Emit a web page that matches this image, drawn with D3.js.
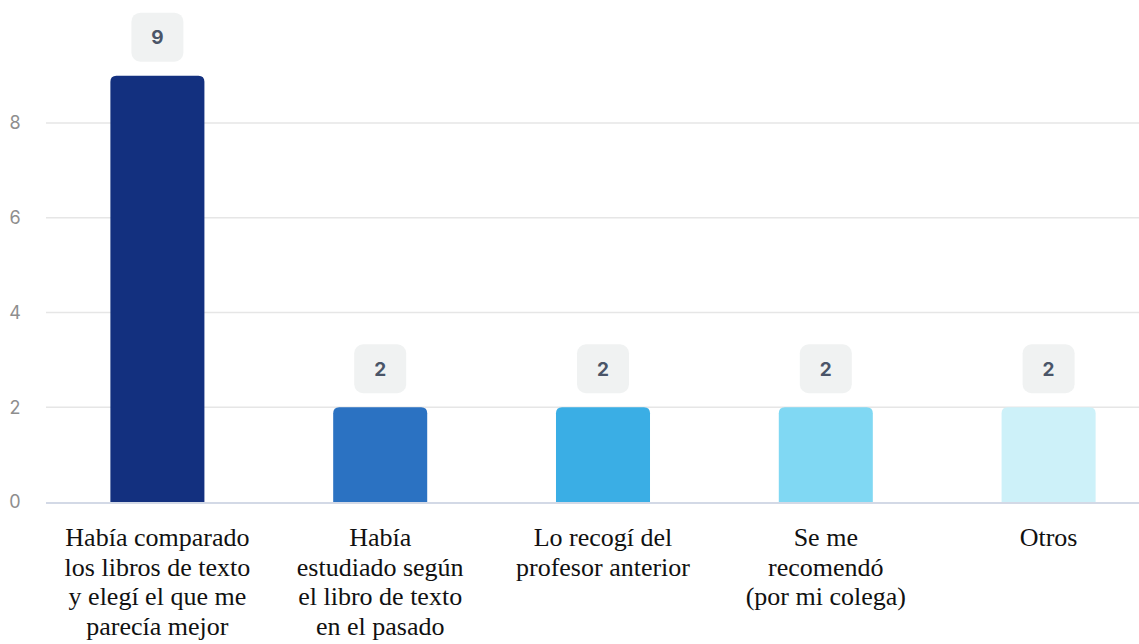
<!DOCTYPE html>
<html>
<head>
<meta charset="utf-8">
<script src="https://cdn.jsdelivr.net/npm/d3@7"></script>
<style>
  html, body { margin: 0; padding: 0; background: #ffffff; }
  svg { display: block; }
</style>
</head>
<body>
<svg id="chart" width="1139" height="644"></svg>
<script>
const categories = [
  ["Había comparado", "los libros de texto", "y elegí el que me", "parecía mejor"],
  ["Había", "estudiado según", "el libro de texto", "en el pasado"],
  ["Lo recogí del", "profesor anterior"],
  ["Se me", "recomendó", "(por mi colega)"],
  ["Otros"]
];
const values = [9, 2, 2, 2, 2];
const colors = ["#13307f", "#2b72c2", "#3aaee5", "#80d8f3", "#cdf1f9"];
const yTicks = [0, 2, 4, 6, 8];

const svg = d3.select("#chart");
const left = 46, right = 1160;

const x = d3.scaleBand()
  .domain(d3.range(values.length))
  .range([left, right])
  .paddingInner(0.578)
  .paddingOuter(0.289);

const y = d3.scaleLinear().domain([0, 8]).range([502, 123]);

// gridlines
svg.append("g").selectAll("line")
  .data(yTicks.filter(t => t !== 0))
  .join("line")
  .attr("x1", left).attr("x2", 1139)
  .attr("y1", d => y(d)).attr("y2", d => y(d))
  .attr("stroke", "#e6e6e6").attr("stroke-width", 1.5);

// y tick labels
svg.append("g").selectAll("text")
  .data(yTicks)
  .join("text")
  .attr("x", 15).attr("y", d => y(d))
  .attr("dy", "0.35em")
  .attr("text-anchor", "middle")
  .attr("font-family", "Inter, Roboto, sans-serif")
  .attr("font-size", 18)
  .attr("fill", "#8e8e8e")
  .text(d => d);

// bars with rounded top corners
const r = 6;
function barPath(i) {
  const x0 = x(i), w = x.bandwidth(), y0 = y(values[i]), y1 = y(0);
  return `M${x0},${y1} L${x0},${y0 + r} Q${x0},${y0} ${x0 + r},${y0} L${x0 + w - r},${y0} Q${x0 + w},${y0} ${x0 + w},${y0 + r} L${x0 + w},${y1} Z`;
}
svg.append("g").selectAll("path")
  .data(values)
  .join("path")
  .attr("d", (d, i) => barPath(i))
  .attr("fill", (d, i) => colors[i]);

// baseline axis
svg.append("line")
  .attr("x1", left).attr("x2", 1139)
  .attr("y1", y(0) + 1).attr("y2", y(0) + 1)
  .attr("stroke", "#d3d9e6").attr("stroke-width", 2);

// value labels
const bw = 52, bh = 49, gap = 14;
const lab = svg.append("g").selectAll("g")
  .data(values)
  .join("g")
  .attr("transform", (d, i) => `translate(${x(i) + x.bandwidth() / 2},${y(d) - gap - bh / 2})`);
lab.append("rect")
  .attr("x", -bw / 2).attr("y", -bh / 2)
  .attr("width", bw).attr("height", bh)
  .attr("rx", 9)
  .attr("fill", "#f0f2f2");
lab.append("text")
  .attr("text-anchor", "middle")
  .attr("dy", "0.36em")
  .attr("font-family", "Inter, Roboto, sans-serif")
  .attr("font-weight", 700)
  .attr("font-size", 19)
  .attr("fill", "#4a5568")
  .text(d => d);

// category labels
const cat = svg.append("g").selectAll("text")
  .data(categories)
  .join("text")
  .attr("x", (d, i) => x(i) + x.bandwidth() / 2)
  .attr("y", 546)
  .attr("text-anchor", "middle")
  .attr("font-family", "'Liberation Serif', 'Times New Roman', serif")
  .attr("font-size", 26)
  .attr("fill", "#111");
cat.selectAll("tspan")
  .data(d => d)
  .join("tspan")
  .attr("x", function () { return d3.select(this.parentNode).attr("x"); })
  .attr("dy", (d, j) => j === 0 ? 0 : 29.5)
  .text(d => d);
</script>
</body>
</html>
